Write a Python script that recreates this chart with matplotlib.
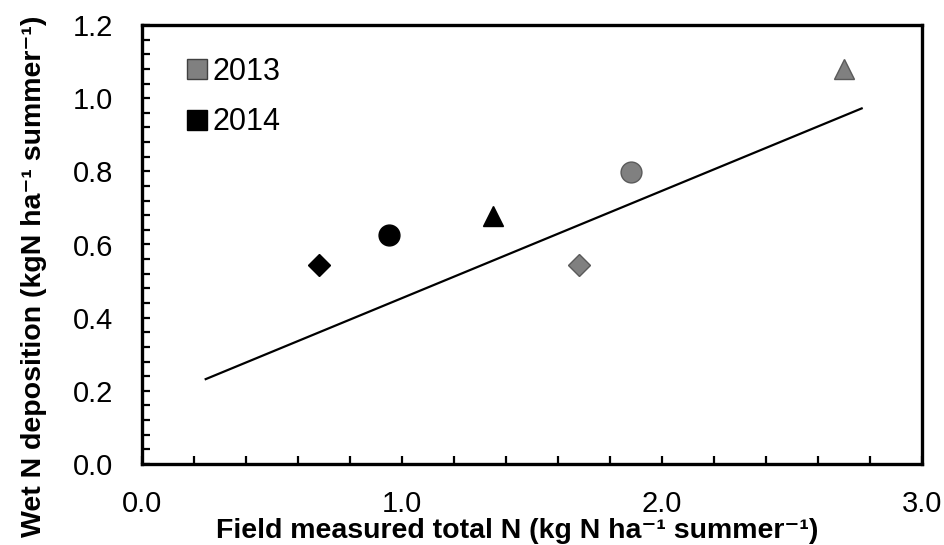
import matplotlib
matplotlib.use("Agg")
import matplotlib.pyplot as plt
from matplotlib.ticker import MultipleLocator, FormatStrFormatter

plt.rcParams['font.family'] = ['Liberation Sans', 'DejaVu Sans']

# Data
markers = ['D', 'o', '^']
x_2014 = [0.68, 0.95, 1.35]
y_2014 = [0.545, 0.627, 0.678]
x_2013 = [1.68, 1.88, 2.70]
y_2013 = [0.545, 0.797, 1.08]
line_x = [0.245, 2.768]
line_y = [0.232, 0.972]
legend_labels = ['2013', '2014']
marker_sizes = {'D': 11, 'o': 15, '^': 14}

fig = plt.figure(figsize=(9.45, 5.45), dpi=100)
ax = fig.add_axes([142/945, 1-464/545, (922-142)/945, (464-25)/545])

ax.plot(line_x, line_y, color='black', lw=1.6, zorder=2)
for m, x, y in zip(markers, x_2014, y_2014):
    ax.plot(x, y, marker=m, ms=marker_sizes[m], color='black', mec='black', ls='none', zorder=3)
for m, x, y in zip(markers, x_2013, y_2013):
    ax.plot(x, y, marker=m, ms=marker_sizes[m], color='#808080', mec='#5a5a5a', mew=1.0, ls='none', zorder=3)

# legend
h1, = ax.plot([], [], marker='s', ms=14, color='#808080', mec='#404040', mew=1.0, ls='none')
h2, = ax.plot([], [], marker='s', ms=14, color='black', ls='none')
ax.legend([h1, h2], legend_labels, loc='upper left', frameon=False, fontsize=22,
          handlelength=0.65, handletextpad=0.2, labelspacing=0.68,
          borderaxespad=0, borderpad=0,
          bbox_to_anchor=(0.0577, 0.928))

ax.set_xlim(0, 3.0)
ax.set_ylim(0, 1.2)
ax.xaxis.set_major_locator(MultipleLocator(1.0))
ax.xaxis.set_minor_locator(MultipleLocator(0.2))
ax.yaxis.set_major_locator(MultipleLocator(0.2))
ax.yaxis.set_minor_locator(MultipleLocator(0.04))
ax.xaxis.set_major_formatter(FormatStrFormatter('%.1f'))
ax.yaxis.set_major_formatter(FormatStrFormatter('%.1f'))
ax.tick_params(which='both', direction='in', length=6, width=1.6, top=False, right=False)
ax.tick_params(axis='both', which='major', labelsize=21)
ax.tick_params(axis='x', which='major', pad=19)
ax.tick_params(axis='y', which='major', pad=21)
for s in ax.spines.values():
    s.set_linewidth(2.4)

ax.set_xlabel('Field measured total N (kg N ha\u207b\u00b9 summer\u207b\u00b9)', fontsize=20.5,
              fontweight='bold')
ax.set_ylabel('Wet N deposition (kgN ha\u207b\u00b9 summer\u207b\u00b9)', fontsize=20.5,
              fontweight='bold')
ax.xaxis.set_label_coords(0.481, -0.124)
ax.yaxis.set_label_coords(-0.1215, 0.428)

fig.savefig('out.png', dpi=100)
